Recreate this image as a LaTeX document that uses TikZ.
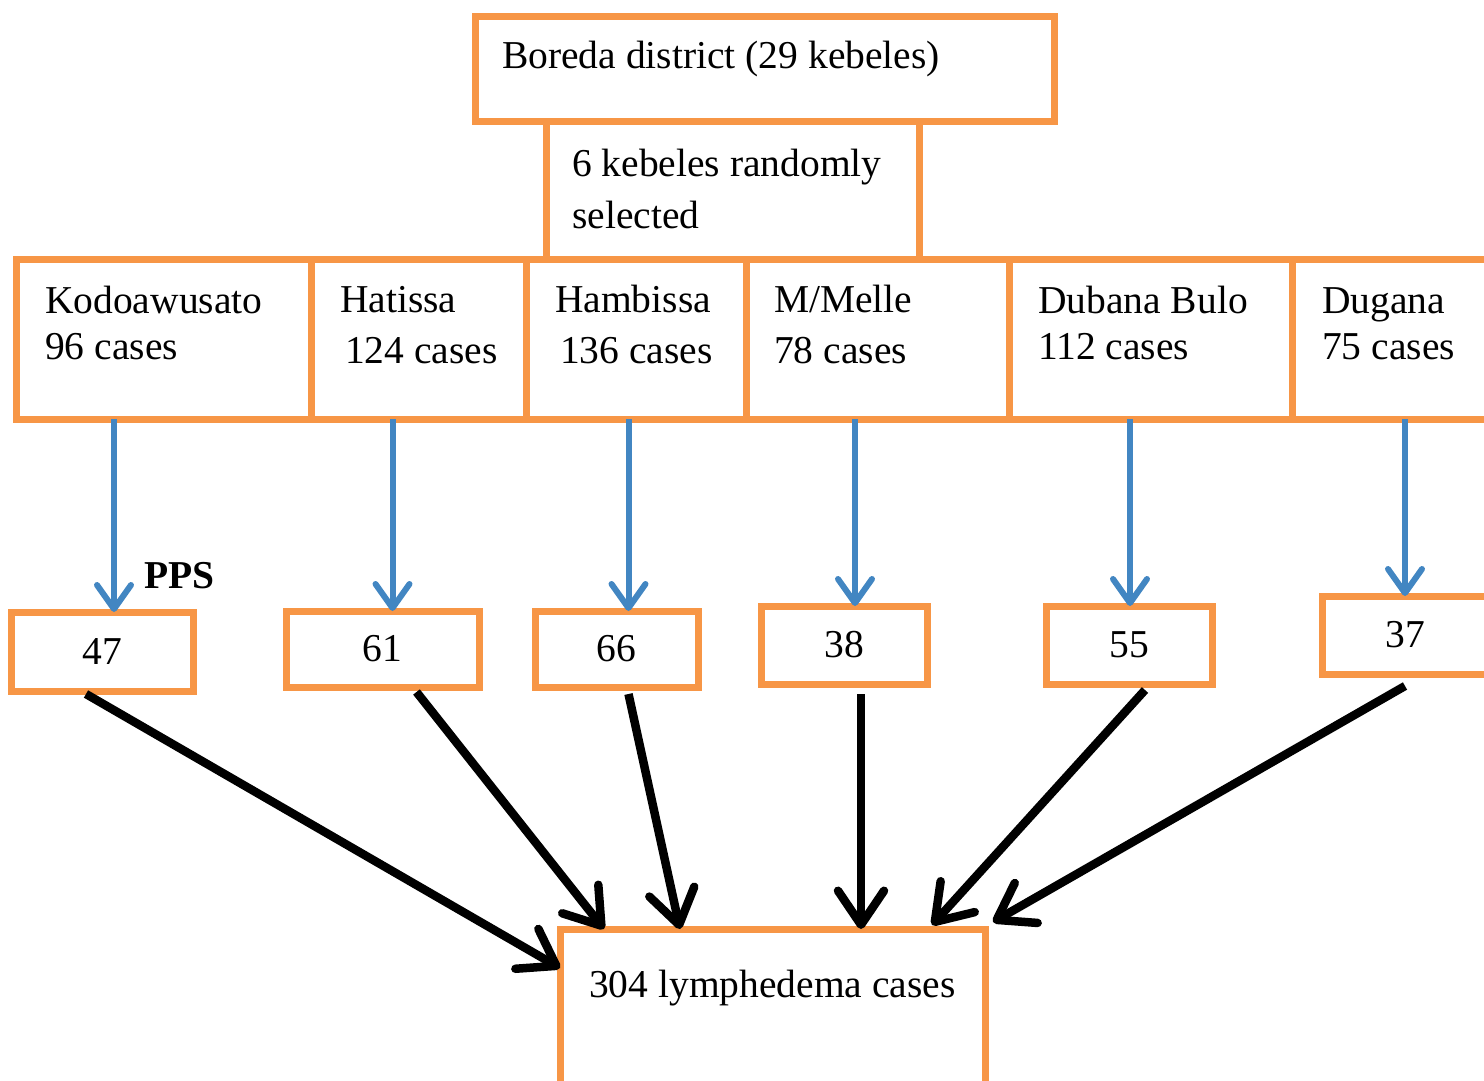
\documentclass[tikz,border=0pt]{standalone}
\usepackage{fontspec}
\setmainfont{Liberation Serif}
\usetikzlibrary{arrows.meta, positioning}
\definecolor{figorange}{RGB}{247,150,70}
\definecolor{figblue}{RGB}{66,134,194}
\newcommand{\capstrut}{\rule{0pt}{30pt}}
\tikzset{
  obox/.style 2 args={draw=figorange, line width=7pt, minimum width=#1,
              minimum height=#2, inner sep=0pt, outer sep=0pt},
  kbox/.style={obox={#1}{160pt}},
  nbox/.style 2 args={obox={#1}{#2}, font=\fontsize{39.5}{46}\selectfont},
  txt/.style={inner sep=0pt, align=left, font=\fontsize{39.5}{46}\selectfont},
  blarr/.style={-{Straight Barb[length=24pt, width=34pt, round]}, figblue, line width=6pt},
  bkarr/.style={-{Straight Barb[length=34pt, width=46pt, round]}, black, line width=8.5pt},
}

\begin{document}
\begin{tikzpicture}[x=1pt, y=-1pt]
  \clip (0,0) rectangle (1484,1081);

  % district and selection
  \node[obox={579pt}{104pt}] (dist) at (764.5,69) {};
  \node[txt, below right=21pt and 27pt of dist.north west] (distT)
    {\capstrut Boreda district (29 kebeles)};
  \node[obox={373pt}{138pt}] (sel) at (732.5,190) {};
  \node[txt, below right=25pt and 26pt of sel.north west] (selT)
    {\capstrut 6 kebeles randomly\\[6pt]selected};

  % kebeles
  \node[kbox=295pt] (kod) at (163.5,339) {};
  \node[kbox=215pt, right=0pt of kod] (hat) {};
  \node[kbox=220pt, right=0pt of hat] (ham) {};
  \node[kbox=263pt, right=0pt of ham] (mel) {};
  \node[kbox=283pt, right=0pt of mel] (dub) {};
  \node[kbox=238pt, right=0pt of dub] (dug) {};

  \node[txt, below right=24pt and 29pt of kod.north west] (kodT)
    {\capstrut Kodoawusato\\96 cases};
  \node[txt, below right=23pt and 29pt of hat.north west] (hatT)
    {\capstrut Hatissa\\[5pt]\kern5pt 124 cases};
  \node[txt, below right=23pt and 29pt of ham.north west] (hamT)
    {\capstrut Hambissa\\[5pt]\kern5pt 136 cases};
  \node[txt, below right=23pt and 28pt of mel.north west] (melT)
    {\capstrut M/Melle\\[5pt]78 cases};
  \node[txt, below right=24pt and 29pt of dub.north west] (dubT)
    {\capstrut Dubana Bulo\\112 cases};
  \node[txt, below right=24pt and 30pt of dug.north west] (dugT)
    {\capstrut Dugana\\75 cases};

  % sample sizes
  \node[nbox={182pt}{79pt}] (p1) at (102,651.5) {47};
  \node[nbox={193pt}{76pt}] (p2) at (382.5,649) {61};
  \node[nbox={163pt}{76pt}] (p3) at (616.5,649) {66};
  \node[nbox={166pt}{78pt}] (p4) at (844,645) {38};
  \node[nbox={166pt}{78pt}] (p5) at (1129,645) {55};
  \node[nbox={166pt}{78pt}] (p6) at (1405,635) {37};
  \node[txt, anchor=base west, font=\fontsize{39.5}{46}\selectfont\bfseries] (pps)
    at (144,588) {PPS};

  % total
  \node[obox={425pt}{180pt}] (tot) at (772.5,1019) {};
  \node[txt, below right=38pt and 29pt of tot.north west] (totT)
    {\capstrut 304 lymphedema cases};

  % kebele -> sample
  \draw[blarr] ([xshift=12pt]p1.north |- kod.south) -- ([xshift=12pt]p1.north);
  \draw[blarr] ([xshift=10pt]p2.north |- hat.south) -- ([xshift=10pt]p2.north);
  \draw[blarr] ([xshift=12pt]p3.north |- ham.south) -- ([xshift=12pt]p3.north);
  \draw[blarr] ([xshift=11pt]p4.north |- mel.south) -- ([xshift=11pt]p4.north);
  \draw[blarr] ([xshift=1pt]p5.north |- dub.south) -- ([xshift=1pt]p5.north);
  \draw[blarr] (p6.north |- dug.south) -- (p6.north);

  % sample -> total
  \draw[bkarr] ([xshift=-16pt, yshift=-3pt]p1.south) -- ([yshift=-39pt]tot.north west);
  \draw[bkarr] ([xshift=34pt, yshift=-5pt]p2.south) -- ([xshift=44pt]tot.north west);
  \draw[bkarr] ([xshift=12pt, yshift=-7pt]p3.south) -- ([xshift=120pt]tot.north west);
  \draw[bkarr] ([xshift=17pt, yshift=-10pt]p4.south) -- ([xshift=301pt]tot.north west);
  \draw[bkarr] ([xshift=16pt, yshift=-6pt]p5.south) -- ([xshift=372pt, yshift=4pt]tot.north west);
  \draw[bkarr] ([yshift=-12pt]p6.south) -- ([xshift=8pt, yshift=7pt]tot.north east);
\end{tikzpicture}
\end{document}
